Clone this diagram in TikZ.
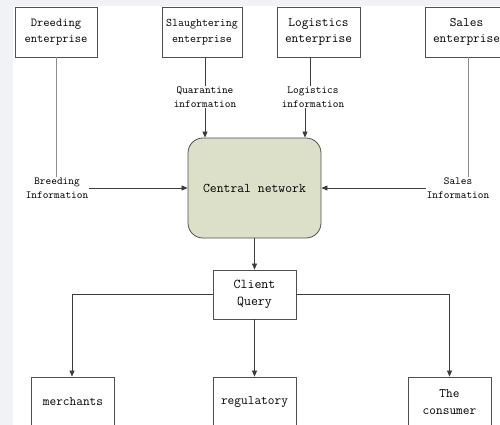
\documentclass[tikz,border=0pt]{standalone}
\usetikzlibrary{arrows.meta,positioning}
\definecolor{centralfill}{RGB}{220,224,201}
\definecolor{boxline}{RGB}{80,80,80}
\definecolor{conline}{RGB}{60,60,60}
\definecolor{stripgray}{RGB}{240,242,245}
\begin{document}
\begin{tikzpicture}[x=1pt,y=-1pt,
  box/.style={draw=boxline,line width=0.8pt,fill=white,rectangle,inner sep=0pt,
    minimum width=83pt,minimum height=50pt,align=center,font=\ttfamily\fontsize{13}{16.5}\selectfont},
  cbox/.style={draw=boxline,line width=0.8pt,fill=centralfill,rectangle,rounded corners=15pt,
    inner sep=0pt,minimum width=133pt,minimum height=100pt,align=center,font=\ttfamily\fontsize{13.3}{16}\selectfont},
  lab/.style={inner sep=1pt,align=center,font=\ttfamily\fontsize{10.8}{13.5}\selectfont},
  con/.style={draw=conline,line width=0.7pt},
  gcon/.style={draw=gray!90,line width=0.8pt},
  arr/.style={con,-{Triangle[length=6pt,width=5pt]}}
]
\useasboundingbox (0,0) rectangle (500,425);
\clip (0,0) rectangle (500,425);
\fill[stripgray] (0,0) rectangle (500,6);
\fill[stripgray] (0,0) rectangle (13,425);

% top boxes
\node[box,minimum width=82pt,font=\ttfamily\fontsize{12.2}{16}\selectfont] (breed) at (56,32) {Dreeding\\enterprise};
\node[box,minimum width=80pt,font=\ttfamily\fontsize{11.6}{16}\selectfont] (slaughter) at (202,32) {Slaughtering\\enterprise};
\node[box] (logis) at (318.5,32) {Logistics\\enterprise};
\node[box] (sales) at (466.5,32) {Sales\\enterprise};

% central
\node[cbox] (central) at (254.5,188) {Central network};

% labels
\node[lab] (breedlab) at (57,188) {Breeding\\Information};
\node[lab] (quarlab) at (205,97) {Quarantine\\information};
\node[lab] (logilab) at (313,97) {Logistics\\information};
\node[lab] (saleslab) at (458,188) {Sales\\Information};

% client and bottom boxes
\node[box,minimum height=49pt,font=\ttfamily\fontsize{13.5}{16.7}\selectfont] (client) at (254.5,294.5) {Client\\Query};
\node[box] (merch) at (73,402) {merchants};
\node[box] (regul) at (254.5,402) {regulatory};
\node[box] (consum) at (449.5,402) {The\\consumer};

% connectors top
\draw[gcon] (breed.south) -- (breed.south |- breedlab.north);
\draw[arr] (breedlab.east) -- (central.west |- breedlab.east);
\draw[con] ([xshift=3pt]slaughter.south) -- ([xshift=3pt]slaughter.south |- quarlab.north);
\draw[arr] (quarlab.south) -- (quarlab.south |- central.north);
\draw[con] ([xshift=-8.5pt]logis.south) -- ([xshift=-8.5pt]logis.south |- logilab.north);
\draw[arr] ([xshift=-8pt]logilab.south) -- ([xshift=-8pt]logilab.south |- central.north);
\draw[gcon] ([xshift=1.5pt]sales.south) -- ([xshift=1.5pt]sales.south |- saleslab.north);
\draw[arr] (saleslab.west) -- (central.east |- saleslab.west);

% connectors bottom
\draw[arr] (central.south) -- (client.north);
\draw[arr] (client.west) -| ([xshift=-1pt]merch.north);
\draw[arr] (client.east) -| (consum.north);
\draw[arr] (client.south) -- (regul.north);
\end{tikzpicture}
\end{document}
